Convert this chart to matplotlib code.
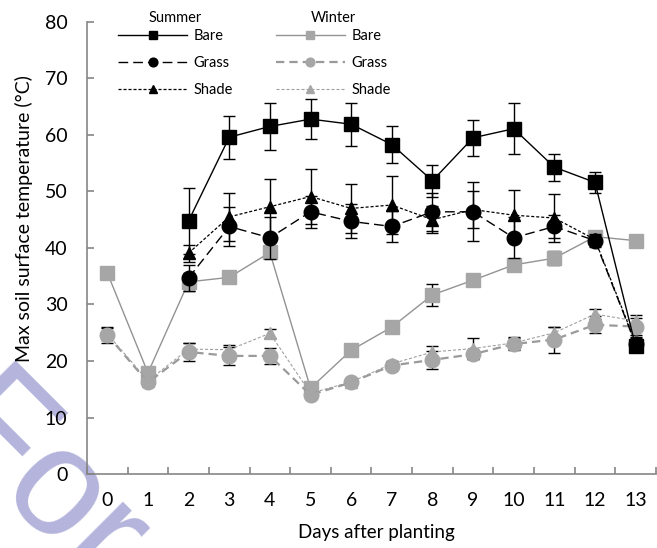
import numpy as np
import matplotlib
matplotlib.use("Agg")
import matplotlib.pyplot as plt

plt.rcParams['font.family'] = ['Lato', 'DejaVu Sans']
plt.rcParams['lines.scale_dashes'] = False

days = list(range(14))
nan = np.nan

summer_bare = [nan, nan, 44.8, 59.6, 61.5, 62.8, 61.9, 58.3, 51.9, 59.5, 61.1, 54.3, 51.6, 22.6]
summer_bare_err = [nan, nan, 5.8, 3.8, 4.2, 3.6, 3.8, 3.2, 2.8, 3.2, 4.5, 2.4, 1.9, 1.0]
summer_grass = [nan, nan, 34.7, 43.8, 41.8, 46.4, 44.7, 43.8, 46.4, 46.4, 41.8, 43.8, 41.3, 23.0]
summer_grass_err = [nan, nan, 2.3, 3.4, 3.7, 2.8, 3.0, 2.7, 3.4, 5.2, 3.6, 2.1, 1.2, 1.0]
summer_shade = [nan, nan, 39.1, 45.5, 47.3, 49.1, 47.0, 47.6, 45.0, 46.8, 45.8, 45.3, 41.5, 23.2]
summer_shade_err = [nan, nan, 1.5, 4.3, 4.9, 4.8, 4.4, 5.2, 2.4, 3.3, 4.5, 4.2, 0.8, 1.0]

winter_bare = [35.6, 17.9, 34.0, 34.8, 39.2, 15.2, 21.9, 26.0, 31.7, 34.3, 37.0, 38.2, 42.0, 41.3]
winter_bare_err = [0.8, 0.5, 1.6, 0.5, 1.0, 0.5, 0.5, 0.5, 1.9, 0.7, 1.0, 1.2, 0.8, 1.0]
winter_grass = [24.6, 16.2, 21.6, 20.9, 20.9, 14.0, 16.2, 19.2, 20.2, 21.2, 23.0, 23.8, 26.4, 26.1]
winter_grass_err = [1.4, 0.5, 1.6, 1.6, 1.4, 0.5, 0.5, 0.6, 1.6, 0.8, 1.0, 2.3, 1.5, 1.5]
winter_shade = [24.8, 16.5, 22.1, 22.0, 24.9, 14.3, 16.3, 19.5, 21.6, 22.2, 23.2, 25.0, 28.3, 27.1]
winter_shade_err = [1.0, 0.5, 1.0, 0.8, 0.8, 0.5, 0.5, 0.5, 1.0, 1.8, 1.0, 1.0, 0.9, 1.0]

labels = ['Bare', 'Grass', 'Shade']

fig = plt.figure(figsize=(6.57, 5.48), dpi=100)
ax = fig.add_axes([0.1324, 0.135, 0.866, 0.825])
ax.patch.set_alpha(0)

fig.text(-0.104, 0.223, 'For Review Only', rotation=-45, rotation_mode='anchor',
         ha='left', va='baseline', fontsize=110, color='#b4b4dc',
         family='Liberation Sans', zorder=-5)

gray = '#a6a6a6'
ekw = dict(ecolor='black', elinewidth=1.0, capsize=4.5, capthick=1.0)

wb = ax.errorbar(days, winter_bare, yerr=winter_bare_err, color='#939393', lw=1.0, ls='-',
                 marker='s', ms=10.5, mfc=gray, mec=gray, zorder=3, **ekw)
wg = ax.errorbar(days, winter_grass, yerr=winter_grass_err, color='#9a9a9a', lw=1.6,
                 ls=(0, (6, 3.6)), marker='o', ms=10.5, mfc=gray, mec=gray, zorder=3, **ekw)
ws = ax.errorbar(days, winter_shade, yerr=winter_shade_err, color='#a0a0a0', lw=0.8,
                 ls=(0, (2.2, 1.4)), marker='^', ms=8.5, mfc=gray, mec=gray, zorder=3, **ekw)

sg = ax.errorbar(days, summer_grass, yerr=summer_grass_err, color='black', lw=1.0,
                 ls=(0, (7, 3.6)), marker='o', ms=10.5, mfc='black', mec='black', zorder=4, **ekw)
ss = ax.errorbar(days, summer_shade, yerr=summer_shade_err, color='black', lw=0.9,
                 ls=(0, (2.2, 1.4)), marker='^', ms=8.5, mfc='black', mec='black', zorder=4, **ekw)
sb = ax.errorbar(days, summer_bare, yerr=summer_bare_err, color='black', lw=1.0, ls='-',
                 marker='s', ms=10.5, mfc='black', mec='black', zorder=5, **ekw)

ax.set_xlim(-0.5, 13.5)
ax.set_ylim(0, 80)
ax.set_yticks(range(0, 81, 10))
ax.set_xticks(days)
ax.set_xticks(np.arange(-0.5, 13.6, 1), minor=True)
ax.tick_params(axis='x', which='major', length=0, labelsize=14, pad=13)
ax.tick_params(axis='x', which='minor', direction='in', length=5, width=1.2, color='#868686')
ax.tick_params(axis='y', direction='in', length=5, width=1.2, color='#868686', labelsize=14, pad=14)
for s in ['top', 'right']:
    ax.spines[s].set_visible(False)
for s in ['left', 'bottom']:
    ax.spines[s].set_color('#868686')
    ax.spines[s].set_linewidth(1.2)

ax.set_xlabel('Days after planting', fontsize=13.5)
ax.set_ylabel('Max soil surface temperature (°C)', fontsize=14)
ax.xaxis.set_label_coords(0.509, -0.13)
ax.yaxis.set_label_coords(-0.11, 0.566)
ax.xaxis.label.set_va('center')
ax.yaxis.label.set_va('center')

lkw = dict(frameon=False, fontsize=10.5, title_fontsize=10.5, handlelength=4.7,
           handletextpad=0.45, labelspacing=0.9, markerscale=0.6, borderaxespad=0)
leg1 = ax.legend([sb[0], sg[0], ss[0]], labels, title='Summer', loc='upper left',
                 bbox_to_anchor=(0.045, 1.038), **lkw)
leg1._legend_box.sep = 3
ax.add_artist(leg1)
leg2 = ax.legend([wb[0], wg[0], ws[0]], labels, title='Winter', loc='upper left',
                 bbox_to_anchor=(0.322, 1.038), **lkw)
leg2._legend_box.sep = 3

fig.savefig('out.png', dpi=100)
